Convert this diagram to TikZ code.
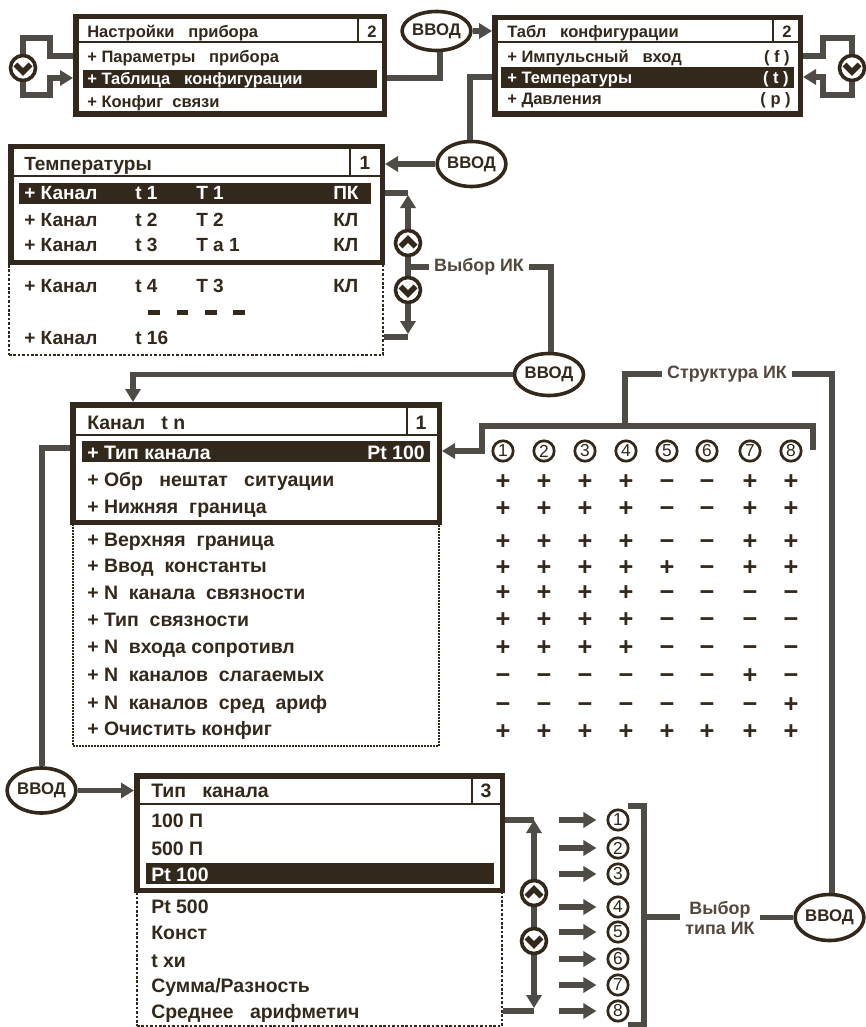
\documentclass[tikz,border=0pt]{standalone}
\usepackage{fontspec}
\setmainfont{Liberation Sans}
\usetikzlibrary{arrows.meta,shapes.geometric,calc}
\definecolor{ink}{HTML}{33281C}
\definecolor{wire}{HTML}{4F4B46}
\newdimen\px \px=0.75pt
\newcommand{\fsz}[1]{\fontsize{#1}{#1}\selectfont\bfseries}
\newcommand{\fsr}[1]{\fontsize{#1}{#1}\selectfont}
\tikzset{
  panelbox/.style={draw=ink,line width=5.5\px,inner sep=0pt,fill=white},
  scrollbox/.style={draw=ink,line width=1.8\px,dash pattern=on 2.6\px off 1.8\px,inner sep=0pt},
  scrollthin/.style={draw=ink,line width=1.1\px,dash pattern=on 2\px off 1\px,inner sep=0pt},
  barbox/.style={fill=ink,inner sep=0pt},
  hline/.style={draw=ink,line width=2.6\px},
  txt/.style={anchor=base west,inner sep=0pt,text=ink,yshift=-6\px},
  rowA/.style={txt,font=\fsz{12.4}},
  rowB/.style={txt,yshift=-0.5\px,font=\fsz{14.3}},
  rowC/.style={txt,yshift=-0.5\px,font=\fsz{14.6}},
  rowD/.style={txt,yshift=-0.5\px,font=\fsz{14.6}},
  sel/.style={text=white},
  rgt/.style={anchor=base east},
  num/.style={anchor=base,inner sep=0pt,text=ink,yshift=-6\px},
  conn/.style={draw=wire,line width=5.3\px},
  tip/.style={-{Triangle[length=9.75pt,width=11.25pt]}},
  tips/.style={{Triangle[length=9.75pt,width=11.25pt]}-{Triangle[length=9.75pt,width=11.25pt]}},
  enter/.style={ellipse,draw=ink,line width=3.6\px,fill=white,inner sep=0pt,text=ink,font=\fsz{12.6}},
  btn/.style={circle,draw=ink,line width=3.6\px,fill=white,inner sep=0pt,minimum size=25\px},
  chev/.style={draw=ink,line width=5.6\px},
  digit/.style={circle,draw=ink,line width=2.7\px,fill=white,inner sep=0pt,minimum size=20.4\px,text=ink,font=\fsr{13}},
  cell/.style={anchor=base,inner sep=0pt,text=ink,font=\fsz{19},yshift=-6.2pt},
  lab/.style={inner xsep=5\px,inner ysep=0pt,text=ink!85!white,font=\fsz{13.4}},
}
\newcommand{\panel}[6]{% name x1 y1 x2 y2 style
  \pgfmathsetmacro{\cxx}{(#2+#4)/2}\pgfmathsetmacro{\cyy}{(#3+#5)/2}
  \pgfmathsetmacro{\ww}{#4-#2}\pgfmathsetmacro{\hh}{#5-#3}
  \node[#6,minimum width=\ww\px,minimum height=\hh\px] (#1) at (\cxx,\cyy) {};}
\newcommand{\outerbox}[5]{% name x1 y1 x2 y2 : outer edges
  \pgfmathsetmacro{\cxx}{(#2+#4)/2}\pgfmathsetmacro{\cyy}{(#3+#5)/2}
  \pgfmathsetmacro{\ww}{#4-#2-5.5}\pgfmathsetmacro{\hh}{#5-#3-5.5}
  \node[panelbox,minimum width=\ww\px,minimum height=\hh\px] (#1) at (\cxx,\cyy) {};}
\newcommand{\chevdown}[1]{\draw[chev] (#1.center) ++(-7.5,-3.5) -- ++(7.5,7.5) -- ++(7.5,-7.5);}
\newcommand{\chevup}[1]{\draw[chev] (#1.center) ++(-7.5,3.5) -- ++(7.5,-7.5) -- ++(7.5,7.5);}
\begin{document}
\begin{tikzpicture}[x=0.75pt,y=-0.75pt]
\useasboundingbox (0,0) rectangle (865,1027);
%% ---------- panel 1
\outerbox{boxA}{73}{14}{387}{117}
\draw[hline] (75,42) -- (385,42); \draw[hline] (358,16) -- (358,42);
\panel{barA}{83}{70}{377}{88}{barbox}
\node[rowA] (tA) at (87,32) {Настройки\ \ \ прибора};
\node[num,font=\fsz{12.4}] (nA) at (372,32) {2};
\node[rowA] (a1) at (87,57) {+ Параметры\ \ \ прибора};
\node[rowA,sel] (a2) at (87,79) {+ Таблица\ \ \ конфигурации};
\node[rowA] (a3) at (87,102) {+ Конфиг\ \ связи};
%% ---------- panel 2
\outerbox{boxB}{492}{15}{803}{117}
\draw[hline] (494,42) -- (801,42); \draw[hline] (773,17) -- (773,42);
\panel{barB}{501}{67}{794}{88}{barbox}
\node[rowA] (tB) at (507,32) {Табл\ \ \ конфигурации};
\node[num,font=\fsz{12.4}] (nB) at (787,32) {2};
\node[rowA] (b1) at (507,57) {+ Импульсный\ \ \ вход};
\node[rowA,sel] (b2) at (507,78) {+ Температуры};
\node[rowA] (b3) at (507,99) {+ Давления};
\node[rowA,rgt] (b1r) at (790,57) {( f )};
\node[rowA,rgt,sel] (b2r) at (789,78) {( t )};
\node[rowA,rgt] (b3r) at (791,99) {( p )};
%% ---------- panel 3
\panel{dotC}{9}{200}{383}{355}{scrollbox}
\outerbox{boxC}{8}{144}{385}{265}
\draw[hline] (10,176) -- (383,176); \draw[hline] (350,146) -- (350,176);
\panel{barC}{19}{183}{371}{204}{barbox}
\node[rowB] (tC) at (24,164) {Температуры};
\node[num,font=\fsz{14.3}] (nC) at (365,164) {1};
\foreach \rr/\yy/\tta/\ttb/\ttc in {2/220/t 2/T 2/КЛ,3/245/t 3/T а 1/КЛ,4/286/t 4/T 3/КЛ}{
  \node[rowB] (cA\rr) at (24,\yy) {+ Канал};
  \node[rowB] (cB\rr) at (135,\yy) {\tta};
  \node[rowB] (cC\rr) at (196,\yy) {\ttb};
  \node[rowB] (cD\rr) at (333,\yy) {\ttc};
}
\node[rowB,sel] (cA1) at (24,193) {+ Канал};
\node[rowB,sel] (cB1) at (135,193) {t 1};
\node[rowB,sel] (cC1) at (196,193) {T 1};
\node[rowB,sel] (cD1) at (333,193) {ПК};
\node[rowB] (cA9) at (24,338) {+ Канал};
\node[rowB] (cB9) at (135,338) {t 16};
\foreach \xa/\xb in {148/160,177/188,205/217,233/245}{\fill[ink] (\xa,309.5) rectangle (\xb,314.5);}
%% ---------- panel 4
\panel{dotD}{73}{470}{439}{746}{scrollthin}
\outerbox{boxD}{70}{402}{442}{525}
\draw[hline] (72,435) -- (440,435); \draw[hline] (407,404) -- (407,435);
\panel{barD}{82}{441}{430}{462}{barbox}
\node[rowC] (tD) at (87,423) {Канал\ \ \ t n};
\node[num,font=\fsz{14.6}] (nD) at (421,423) {1};
\node[rowC,sel] (d1) at (87,453) {+ Тип канала};
\node[rowC,sel,rgt] (d1r) at (425,453) {Pt 100};
\node[rowC] (d2) at (87,480) {+ Обр\ \ \ нештат\ \ \ ситуации};
\node[rowC] (d3) at (87,507) {+ Нижняя\ \ граница};
\node[rowC] (d4) at (87,540) {+ Верхняя\ \ граница};
\node[rowC] (d5) at (87,566) {+ Ввод\ \ константы};
\node[rowC] (d6) at (87,593) {+ N\ \ канала\ \ связности};
\node[rowC] (d7) at (87,620) {+ Тип\ \ связности};
\node[rowC] (d8) at (87,647) {+ N\ \ входа сопротивл};
\node[rowC] (d9) at (87,675) {+ N\ \ каналов\ \ слагаемых};
\node[rowC] (d10) at (87,703) {+ N\ \ каналов\ \ сред\ \ ариф};
\node[rowC] (d11) at (87,729) {+ Очистить конфиг};
%% ---------- panel 5
\panel{dotE}{137}{860}{502}{1026}{scrollbox}
\outerbox{boxE}{134}{773}{505}{893}
\draw[hline] (136,804) -- (503,804); \draw[hline] (472,775) -- (472,804);
\panel{barE}{146}{863}{494}{884}{barbox}
\node[rowD] (tE) at (151,791) {Тип\ \ \ канала};
\node[num,font=\fsz{14.6}] (nE) at (486,791) {3};
\node[rowD] (e1) at (151,821) {100 П};
\node[rowD] (e2) at (151,849) {500 П};
\node[rowD,sel] (e3) at (151,875) {Pt 100};
\node[rowD] (e4) at (151,907) {Pt 500};
\node[rowD] (e5) at (151,933) {Конст};
\node[rowD] (e6) at (151,961) {t хи};
\node[rowD] (e7) at (151,986) {Сумма/Разность};
\node[rowD] (e8) at (151,1012) {Среднее\ \ \ арифметич};
%% ---------- enter ellipses
\node[enter,minimum width=66\px,minimum height=39\px] (ent1) at (436.5,31) {ВВОД};
\node[enter,minimum width=66\px,minimum height=45\px] (ent2) at (471.5,164) {ВВОД};
\node[enter,minimum width=69\px,minimum height=42\px] (ent3) at (549,374.5) {ВВОД};
\node[enter,minimum width=68\px,minimum height=45\px] (ent4) at (41.5,790.5) {ВВОД};
\node[enter,minimum width=66\px,minimum height=46\px] (ent5) at (829.5,917.5) {ВВОД};
%% ---------- labels
\node[lab] (lbl1) at (479,267) {Выбор ИК};
\node[lab] (lbl2) at (727,374) {Структура ИК};
\node[lab,align=center] (lbl3) at (720,918) {Выбор\\[2pt]типа ИК};
%% ---------- loops on top panels
\node[btn] (dn1) at (23,68) {};
\node[btn] (dn2) at (852,68) {};
\coordinate (p1) at (50,56); \coordinate (p2) at (50,38); \coordinate (p3) at (50,95); \coordinate (p4) at (50,78);
\draw[conn] (boxA.west |- p1) -- (p1) -- (p2) -- (dn1 |- p2) -- (dn1);
\draw[conn,tip] (dn1) -- (dn1 |- p3) -- (p3) -- (p4) -- (boxA.west |- p4);
\coordinate (q1) at (823,56); \coordinate (q2) at (823,38); \coordinate (q3) at (823,95); \coordinate (q4) at (823,77);
\draw[conn] (boxB.east |- q1) -- (q1) -- (q2) -- (dn2 |- q2) -- (dn2);
\draw[conn,tip] (dn2) -- (dn2 |- q3) -- (q3) -- (q4) -- (boxB.east |- q4);
%% ---------- enter connectors
\coordinate (r1) at (440,78);
\draw[conn] (boxA.east |- r1) -- (r1) -- (ent1.south -| r1);
\draw[conn,tip] (ent1) -- (boxB.west |- ent1);
\coordinate (r2) at (470,77);
\draw[conn] (boxB.west |- r2) -- (r2) -- (ent2.north -| r2);
\draw[conn,tip] (ent2) -- (boxC.east |- ent2);
%% ---------- scroll C
\coordinate (s1) at (408,193); \coordinate (s2) at (408,337); \coordinate (s3) at (408,267);
\draw[conn] (boxC.east |- s1) -- (s1);
\draw[conn] (dotC.east |- s2) -- (s2);
\draw[conn,tips] ([yshift=-2\px]s1) -- ([yshift=3\px]s2);
\draw[conn] (s3) -- (lbl1.west);
\node[btn] (up3) at (408,243) {};
\node[btn] (dn3) at (408,290) {};
\coordinate (s4) at (551,267);
\draw[conn] (lbl1.east) -- (s4) -- (ent3.north -| s4);
\coordinate (s5) at (133,374.5);
\draw[conn,tip] (ent3) -- (s5) -- (boxD.north -| s5);
%% ---------- structure
\coordinate (u1) at (482,426); \coordinate (u2) at (813,426); \coordinate (u3) at (813,450); \coordinate (u4) at (482,451); \coordinate (u5) at (625,426); \coordinate (u6) at (625,374); \coordinate (u7) at (832,374);
\draw[conn,tip] (u3) -- (u2) -- (u1) -- (u4) -- (boxD.east |- u4);
\draw[conn] (u5) -- (u6) -- (lbl2.west);
\draw[conn] (lbl2.east) -- (u7) -- (ent5.north -| u7);
%% ---------- table
\foreach \dd [count=\cc] in {1,...,8}{
  \pgfmathsetmacro{\xx}{{503,544,585,626,667,707,750,791}[\cc-1]}
  \node[digit] (hd\cc) at (\xx,451) {\dd};
}
\foreach \yy/\sg [count=\rr] in {
  481/{+,+,+,+,−,−,+,+},
  508/{+,+,+,+,−,−,+,+},
  541/{+,+,+,+,−,−,+,+},
  567/{+,+,+,+,+,−,+,+},
  592/{+,+,+,+,−,−,−,−},
  619/{+,+,+,+,−,−,−,−},
  647/{+,+,+,+,−,−,−,−},
  675/{−,−,−,−,−,−,+,−},
  704/{−,−,−,−,−,−,−,+},
  731/{+,+,+,+,+,+,+,+}}{
  \foreach \ss [count=\cc] in \sg {
    \pgfmathsetmacro{\xx}{{503,544,585,626,667,707,750,791}[\cc-1]}
    \node[cell] (m\rr-\cc) at (\xx,\yy) {\ss};
  }
}
%% ---------- enter to panel E
\coordinate (w1) at (42,448);
\draw[conn] (boxD.west |- w1) -- (w1) -- (ent4.north -| w1);
\draw[conn,tip] (ent4) -- (boxE.west |- ent4);
%% ---------- scroll E
\coordinate (v1) at (534,820); \coordinate (v2) at (534,1011);
\draw[conn] (boxE.east |- v1) -- (v1);
\draw[conn] (dotE.east |- v2) -- (v2);
\draw[conn,tips] (v1) -- ([yshift=3\px]v2);
\node[btn] (up5) at (534,893) {};
\node[btn] (dn5) at (534,941) {};
%% ---------- arrows to digits
\foreach \yy [count=\cc] in {820,848,874,907,932,959,985,1011}{
  \node[digit] (ty\cc) at (618,\yy) {\cc};
  \coordinate (ts\cc) at (559,\yy);
  \draw[conn,tip,shorten >=10\px] (ts\cc) -- (ty\cc.west);
}
%% ---------- bracket
\coordinate (k1) at (628,806); \coordinate (k2) at (644,806); \coordinate (k3) at (644,1025); \coordinate (k4) at (628,1025); \coordinate (k5) at (644,917);
\draw[conn] (k1) -- (k2) -- (k3) -- (k4);
\draw[conn] (k5) -- (lbl3.west |- k5);
\draw[conn] (lbl3.east |- ent5) -- (ent5);
%% ---------- chevrons
\chevdown{dn1}\chevdown{dn2}\chevup{up3}\chevdown{dn3}\chevup{up5}\chevdown{dn5}
\end{tikzpicture}
\end{document}
